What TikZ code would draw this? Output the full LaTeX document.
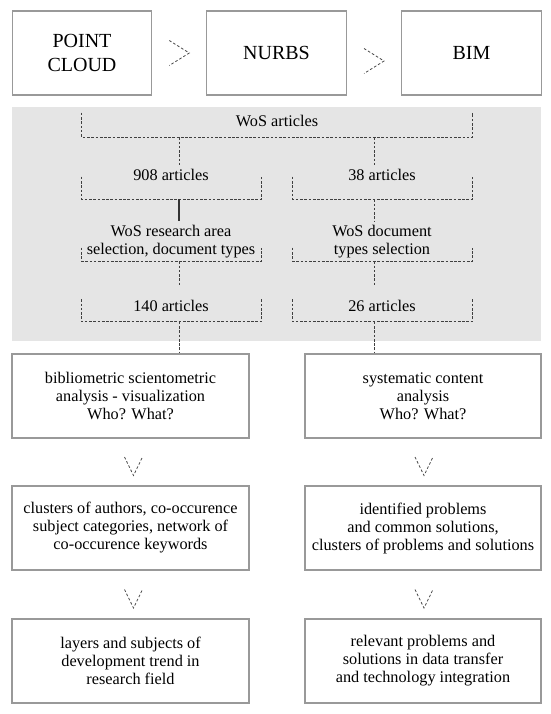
\documentclass[tikz,border=0pt]{standalone}
\usepackage{fontspec}
\setmainfont{Liberation Serif}
\usetikzlibrary{calc}
\tikzset{>=stealth}

\begin{document}
\begin{tikzpicture}[x=0.75pt,y=-0.75pt,
    box/.style={draw=black!40, line width=0.9pt, minimum height=63pt, align=center, inner sep=2pt,
      font=\rmfamily\fontsize{12.2}{13.5}\selectfont},
    bigbox/.style={box, minimum width=104.5pt, font=\rmfamily\fontsize{15}{17.5}\selectfont},
    txt/.style={align=center, inner sep=3pt, font=\rmfamily\fontsize{12.2}{13.5}\selectfont},
    frame/.style={inner sep=0pt, minimum width=134.25pt},
    dline/.style={dash pattern=on 2pt off 1.2pt, line width=0.75pt, black!75},
    chev/.style={dash pattern=on 2pt off 1.5pt, line width=0.6pt, black!70}]
  \useasboundingbox (0,0) rectangle (550,714);
  \fill[black!10] (12,107) rectangle (541,341);
  % top row
  \node[bigbox] (pc) at (82,53) {POINT\\CLOUD};
  \node[bigbox] (nurbs) at (276.5,53) {NURBS};
  \node[bigbox] (bim) at (471.5,53) {BIM};
  \draw[chev] ($(pc.east)!0.5!(nurbs.west)$) ++(-10,-12.5) -- ++(20,12.5) -- ++(-20,12.5);
  \draw[chev] ($(nurbs.east)!0.5!(bim.west)+(0,8)$) ++(-10,-12.5) -- ++(20,12.5) -- ++(-20,12.5);
  % WoS selection
  \node[frame, minimum width=292.5pt, minimum height=18pt] (fwos) at (277,125) {};
  \node[txt] (twos) at (277,121) {WoS articles};
  \node[frame, minimum height=16.5pt] (f908) at (171.5,188) {};
  \node[txt] (t908) at (171,175) {908 articles};
  \node[frame, minimum height=16.5pt] (f38) at (382.5,188) {};
  \node[txt] (t38) at (382,175) {38 articles};
  \node[frame, minimum height=9.75pt] (farea) at (171.5,254.5) {};
  \node[txt] (tarea) at (171,242) {WoS research area\\selection, document types};
  \node[frame, minimum height=9.75pt] (ftype) at (382.5,254.5) {};
  \node[txt] (ttype) at (382,242) {WoS document\\types selection};
  \node[frame, minimum height=16.5pt] (f140) at (171.5,310.5) {};
  \node[txt] (t140) at (171,306) {140 articles};
  \node[frame, minimum height=16.5pt] (f26) at (382.5,310.5) {};
  \node[txt] (t26) at (382,306) {26 articles};
  \foreach \f in {fwos,f908,f38,farea,ftype,f140,f26}
    \draw[dline] (\f.north west) -- (\f.south west) -- (\f.south east) -- (\f.north east);
  % analysis boxes
  \node[box, minimum width=177.75pt] (b1l) at (130.5,396) {bibliometric scientometric\\analysis - visualization\\Who? What?};
  \node[box, minimum width=177pt] (b1r) at (423,396) {systematic content\\analysis\\Who? What?};
  \node[box, minimum width=177.75pt] (b2l) at (130.5,528) {clusters of authors, co-occurence\\subject categories, network of\\co-occurence keywords};
  \node[box, minimum width=177pt] (b2r) at (423,528) {identified problems\\and common solutions,\\clusters of problems and solutions};
  \node[box, minimum width=177.75pt] (b3l) at (130.5,661) {layers and subjects of\\development trend in\\research field};
  \node[box, minimum width=177pt] (b3r) at (423,661) {relevant problems and\\solutions in data transfer\\and technology integration};
  % connectors
  \coordinate (lx) at (179,0);
  \coordinate (rx) at (374,0);
  \draw[dline] (fwos.south -| lx) -- (t908.north -| lx);
  \draw[dline] (fwos.south -| rx) -- (t38.north -| rx);
  \draw[line width=0.9pt, black!80] (f908.south -| lx) -- (tarea.north -| lx);
  \draw[dline] (f38.south -| rx) -- (ttype.north -| rx);
  \draw[dline, shorten >=8pt] (farea.south -| lx) -- (t140.north -| lx);
  \draw[dline, shorten >=8pt] (ftype.south -| rx) -- (t26.north -| rx);
  \draw[dline] (f140.south -| lx) -- (b1l.north -| lx);
  \draw[dline] (f26.south -| rx) -- (b1r.north -| rx);
  \foreach \a/\b/\dx in {b1l/b2l/3,b1r/b2r/1,b2l/b3l/3,b2r/b3r/1}
    \draw[chev] ($(\a.south)!0.5!(\b.north)+(\dx,0)$) ++(-9,-5) -- ++(9,18.5) -- ++(9,-18.5);
\end{tikzpicture}
\end{document}
